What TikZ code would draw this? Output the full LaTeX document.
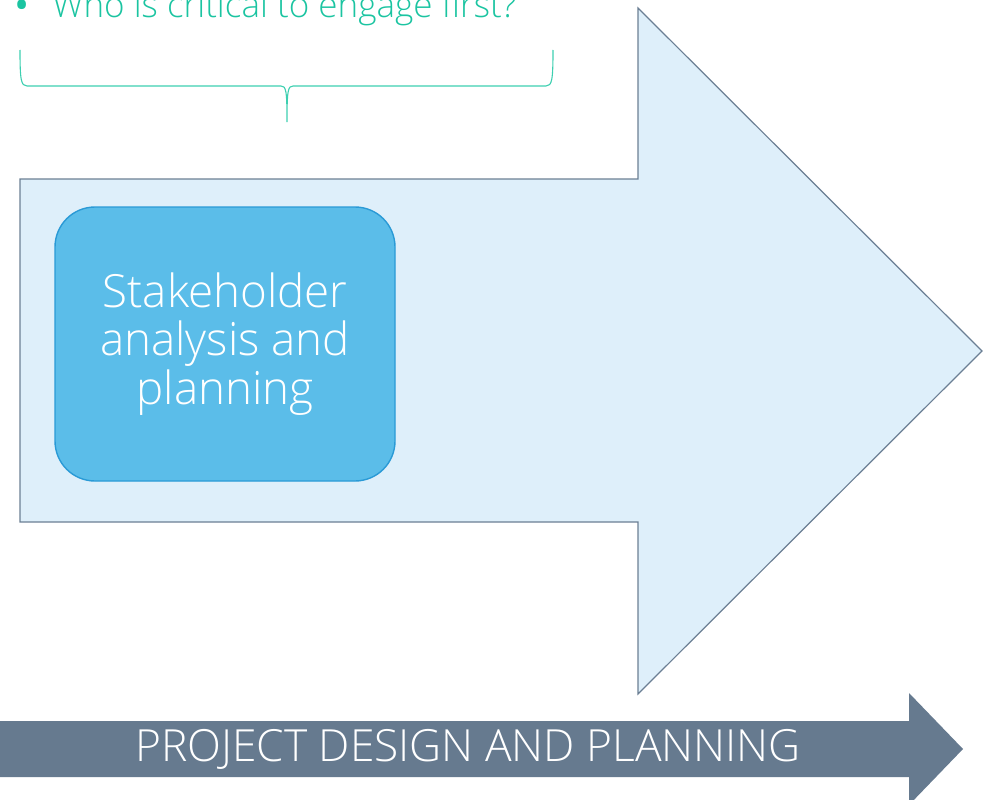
\documentclass[tikz,border=0pt]{standalone}
\usepackage{fontspec}
\setmainfont{Open Sans}
\newfontfamily\lightfont{Open Sans Light}
\usetikzlibrary{positioning, calc}

\definecolor{arrowfill}{HTML}{DEEFFA}
\definecolor{arrowline}{HTML}{6B7F94}
\definecolor{boxfill}{HTML}{5BBDE9}
\definecolor{boxline}{HTML}{2A9AD6}
\definecolor{phasefill}{HTML}{667A8F}
\definecolor{teal}{HTML}{1BC4A1}
\definecolor{bracecol}{HTML}{3DCFB0}

\begin{document}
\begin{tikzpicture}[
	  x=1pt, y=-1pt,
	  bigarrow/.style={draw=arrowline, fill=arrowfill, line width=1.2pt},
	  phasearrow/.style={fill=phasefill},
	  stagebox/.style={draw=boxline, fill=boxfill, line width=1.4pt, rounded corners=40pt,
	    align=center, text=white, font=\lightfont\fontsize{45.7}{48.5}\selectfont},
	  phaselabel/.style={text=white, font=\lightfont\fontsize{44.3}{50}\selectfont},
	  question/.style={text=teal, font=\lightfont\fontsize{35}{40}\selectfont},
	  bracket/.style={draw=bracecol, line width=1.1pt}
	]
	\useasboundingbox (0,0) rectangle (988,800);

	% large arrow
	\draw[bigarrow] (20,179) -- (638,179) -- (638,8) -- (982,351) -- (638,694)
	  -- (638,522) -- (20,522) -- cycle;

	% phase arrow at the bottom
	\fill[phasearrow] (0,721) -- (909,721) -- (909,693) -- (963,749) -- (909,805)
	  -- (909,777) -- (0,777) -- cycle;
	\node[phaselabel] (phase) at (468,749) {PROJECT DESIGN AND PLANNING};

	% stage box
	\node[stagebox, minimum width=340pt, minimum height=274pt] (stake) at (225,344)
	{Stakeholder\\analysis and\\planning};

	% question and brace
	\node[question, anchor=base west, inner sep=0pt] (q1) at (15,18)
	{{\bfseries\textbullet}\hspace{24pt}Who is critical to engage first?};
	\draw[bracket] (20,50) .. controls (20,80) and (21,86) .. (27,86) -- (281,86)
	  .. controls (286,86) and (287,90) .. (287,122)
	  .. controls (287,90) and (288,86) .. (293,86) -- (546,86)
	  .. controls (552,86) and (553,80) .. (553,50);

\end{tikzpicture}
\end{document}
